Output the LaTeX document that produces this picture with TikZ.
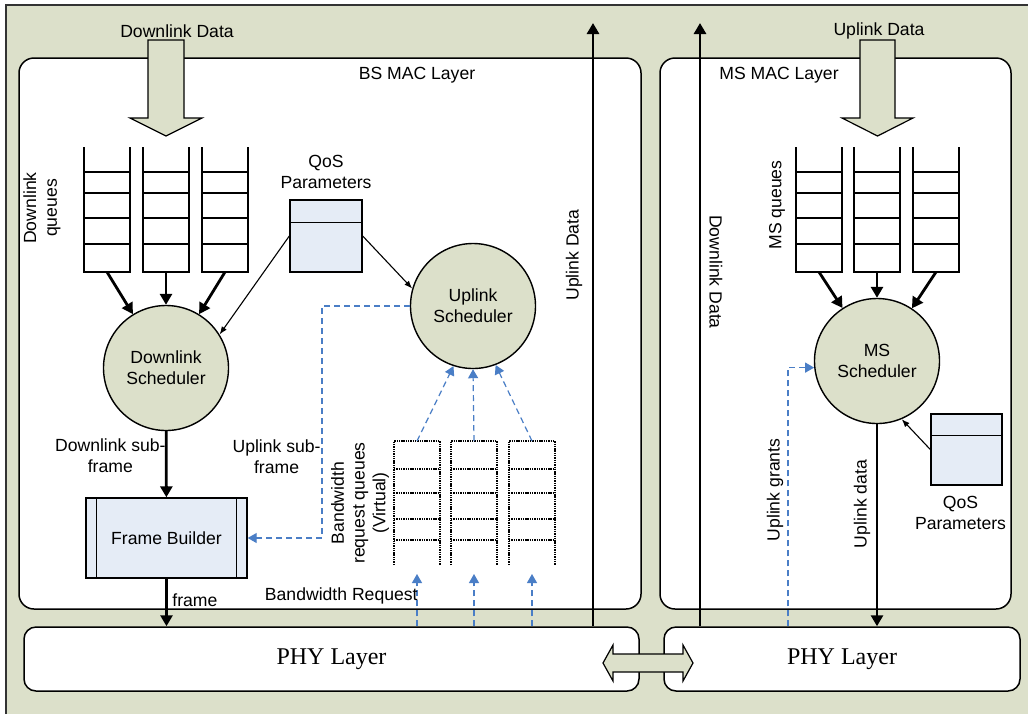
\documentclass[tikz,border=0pt]{standalone}
\usepackage{fontspec}
\setmainfont{Liberation Sans}
\newfontfamily\phyfont{Liberation Serif}
\usetikzlibrary{arrows.meta, positioning, calc}
\definecolor{bgG}{HTML}{DCE0CA}
\definecolor{fBlue}{HTML}{E5ECF6}
\definecolor{arrB}{HTML}{4A7EC6}
\definecolor{frm}{HTML}{333333}
\newcommand{\lblf}{\fontsize{8.8}{10.4}\selectfont}
\tikzset{
  macbox/.style={draw, line width=0.75pt, rounded corners=7.5pt, fill=white,
    minimum height=275.5pt, inner sep=0pt},
  phybox/.style={draw, line width=0.75pt, rounded corners=6pt, fill=white,
    minimum height=32pt, font=\phyfont\fontsize{12}{14}\selectfont},
  sched/.style={circle, draw, line width=0.7pt, fill=bgG, minimum size=62.5pt,
    inner sep=0pt, font=\lblf, align=center},
  qos/.style={draw, line width=0.7pt, fill=fBlue, minimum width=36pt,
    minimum height=36pt, inner sep=0pt},
  fbox/.style={draw, line width=0.7pt, fill=fBlue, minimum width=80.5pt,
    minimum height=40pt, font=\lblf},
  qline/.style={line width=0.7pt},
  vline/.style={line width=0.75pt, dash pattern=on 0.7pt off 0.45pt},
  blk/.style={draw, line width=0.6pt, fill=bgG},
  lbl/.style={font=\lblf, align=center, inner sep=1pt},
  A/.style={-{Triangle[length=5.5pt,width=6pt]}, line width=1.4pt},
  At/.style={-{Latex[length=4pt,width=3pt]}, line width=0.55pt},
  Ab/.style={-{Triangle[length=4.5pt,width=5pt]}, draw=arrB, line width=0.6pt,
    dash pattern=on 3pt off 2pt},
}
\begin{document}
\begin{tikzpicture}[x=0.5pt, y=-0.5pt]
\useasboundingbox (0,0) rectangle (1028,714);

% ── background frame ───────────────────────────────────────────────────────
\fill[bgG] (6,5) rectangle (1028,714);
\draw[frm, line width=1pt] (6,714) -- (6,5) -- (1028,5);

% ── MAC and PHY layers ─────────────────────────────────────────────────────
\node[macbox, minimum width=311pt] (bsmac) at (330,333.5) {};
\node[lbl] (bsmacT) at (417,75) {BS MAC Layer};
\node[macbox, minimum width=175.5pt] (msmac) at (835.5,333.5) {};
\node[lbl] (msmacT) at (779,75) {MS MAC Layer};

\node[phybox, minimum width=307.5pt] (phyL) at (331.5,659) {PHY Layer};
\node[phybox, minimum width=178pt] (phyR) at (842,659) {PHY Layer};
\draw[blk] (603,663) -- (613,645) -- (613,654) -- (683,654) -- (683,645) -- (693,663)
  -- (683,681) -- (683,672) -- (613,672) -- (613,681) -- cycle;

% ── incoming data ──────────────────────────────────────────────────────────
\draw[blk] (148,40) -- (184,40) -- (184,118) -- (202,118) -- (166,136) -- (130,118) -- (148,118) -- cycle;
\node[lbl] (dlin) at (177,31) {Downlink Data};
\draw[blk] (860,40) -- (895,40) -- (895,118) -- (913,118) -- (877.5,136) -- (842,118) -- (860,118) -- cycle;
\node[lbl] (ulin) at (879,31) {Uplink Data};

% ── queues ─────────────────────────────────────────────────────────────────
\foreach \x [count=\i] in {84,143,202}{
  \draw[qline] (\x,147) -- (\x,272) -- (\x+46,272) -- (\x+46,147);
  \foreach \y in {172,193,218,244} \draw[qline] (\x,\y) -- (\x+46,\y);
  \coordinate (dq\i) at (\x+23,272);
}
\node[lbl, rotate=90] (dqT) at (42,208) {Downlink\\queues};

\foreach \x [count=\i] in {796,854,913}{
  \draw[qline] (\x,147) -- (\x,272) -- (\x+46,272) -- (\x+46,147);
  \foreach \y in {172,193,218,244} \draw[qline] (\x,\y) -- (\x+46,\y);
  \coordinate (mq\i) at (\x+23,272);
}
\node[lbl, rotate=90] (mqT) at (777,205) {MS queues};

\foreach \x [count=\i] in {394,451,509}{
  \draw[vline] (\x,565) -- (\x,441) -- (\x+46,441) -- (\x+46,565);
  \foreach \y in {469,493,519,540} \draw[vline] (\x,\y) -- (\x+46,\y);
  \coordinate (vqt\i) at (\x+23,441);
  \coordinate (vqb\i) at (\x+23,574);
}
\node[lbl, rotate=90] (vqT) at (360,503) {Bandwidth\\request queues\\(Virtual)};

% ── schedulers and QoS ─────────────────────────────────────────────────────
\node[sched] (dsch) at (166,368) {Downlink\\Scheduler};
\node[sched] (usch) at (473,306) {Uplink\\Scheduler};
\node[sched] (msch) at (877,361) {MS\\Scheduler};

\node[qos] (qosL) at (326,236) {};
\draw[qline] ([yshift=-11.5pt]qosL.north west) -- ([yshift=-11.5pt]qosL.north east);
\node[lbl, above=4pt of qosL] (qosLT) {QoS\\Parameters};
\node[qos, minimum width=35.5pt, minimum height=35.5pt] (qosR) at (966.5,449.5) {};
\draw[qline] ([yshift=-11pt]qosR.north west) -- ([yshift=-11pt]qosR.north east);
\node[lbl, below=4pt of qosR, xshift=-3pt] (qosRT) {QoS\\Parameters};

\node[fbox] (fb) at (166.5,538) {Frame Builder};
\draw[qline] ([xshift=5.5pt]fb.north west) -- ([xshift=5.5pt]fb.south west);
\draw[qline] ([xshift=-5.5pt]fb.north east) -- ([xshift=-5.5pt]fb.south east);

% ── BS side connectors ─────────────────────────────────────────────────────
\foreach \i in {1,2,3} \draw[A] (dq\i) -- (dsch);
\draw[At] (qosL.west) -- (dsch.32);
\draw[At] (qosL.east) -- (usch.164);
\draw[A] (dsch) -- (fb);
\node[lbl, anchor=east, inner sep=0pt] (dsfT) at (166,456) {Downlink sub-\\frame};
\draw[A] (fb.south) -- (fb.south |- phyL.north);
\node[lbl, anchor=west] (frT) at (170,600) {frame};

\coordinate (usf) at (322,306);
\draw[Ab] (usch.west) -- (usf) |- (fb.east);
\node[lbl, anchor=east, inner sep=0pt] (usfT) at (321,457) {Uplink sub-\\frame};

\draw[Ab] (vqt1) -- (usch.-108);
\draw[Ab] (vqt2) -- (usch.south);
\draw[Ab] (vqt3) -- (usch.-69);
\foreach \i in {1,2,3} \draw[Ab] (phyL.north -| vqb\i) -- (vqb\i);
\node[lbl, anchor=east, inner sep=0pt] (brT) at (418,596) {Bandwidth Request};

% ── vertical data paths ────────────────────────────────────────────────────
\coordinate (ulTop) at (593,23);
\draw[A] (phyL.north -| ulTop) -- (ulTop);
\node[lbl, rotate=90] (ulT) at (574,255) {Uplink Data};
\coordinate (dlTop) at (700,23);
\draw[A] (phyR.north -| dlTop) -- (dlTop);
\node[lbl, rotate=-90] (dlT) at (716,272) {Downlink Data};

% ── MS side connectors ─────────────────────────────────────────────────────
\foreach \i in {1,2,3} \draw[A] (mq\i) -- (msch);
\draw[At] (qosR.west) -- (msch.-67);
\draw[A] (msch.south) -- (msch.south |- phyR.north);
\node[lbl, rotate=90] (udT) at (862,504) {Uplink data};
\coordinate (ugr) at (788,368);
\draw[Ab] (phyR.north -| ugr) |- (msch.186);
\node[lbl, rotate=90] (ugT) at (775,490) {Uplink grants};

\end{tikzpicture}
\end{document}
